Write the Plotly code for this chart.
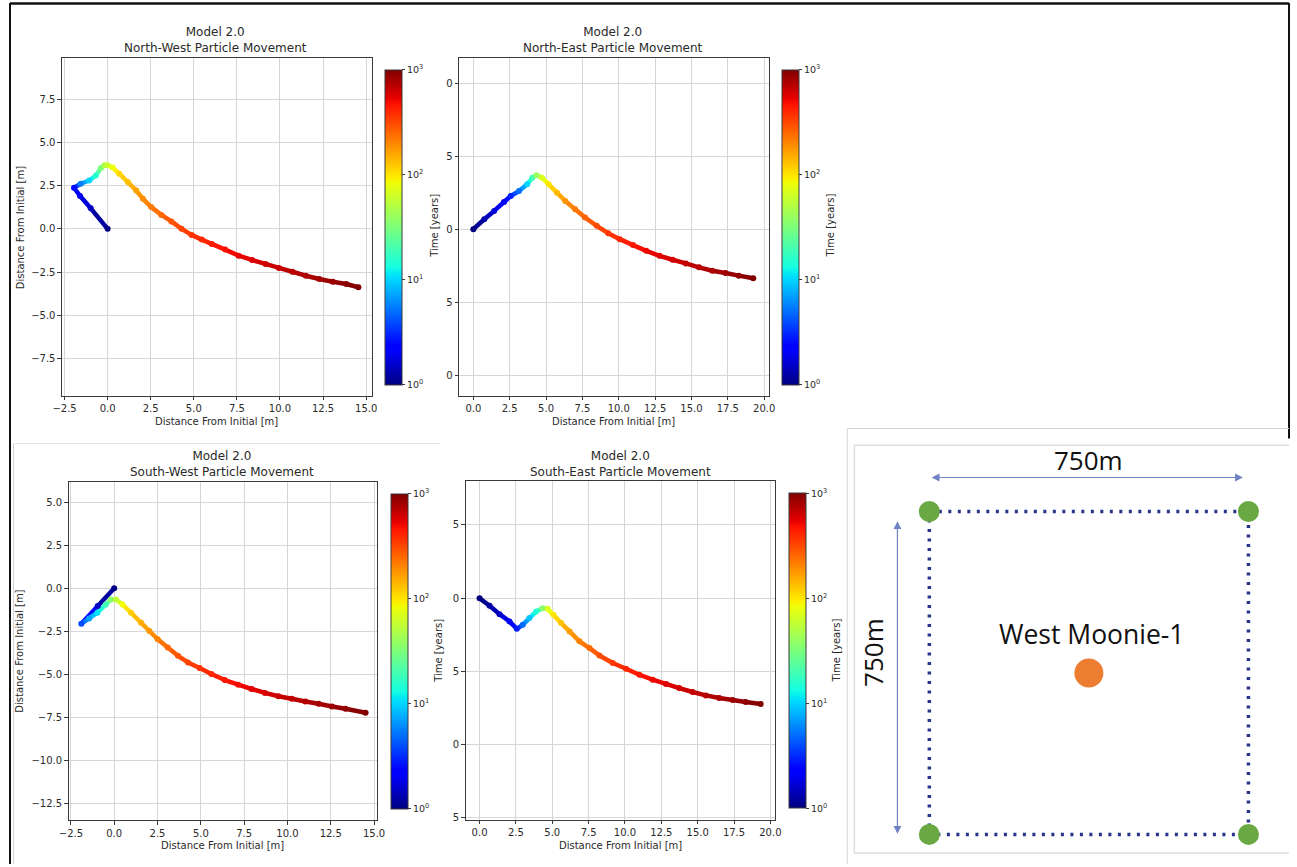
import math
import plotly.graph_objects as go
from plotly.colors import sample_colorscale

W, H = 1297, 867

# ---------------- data ----------------
nw_x = [0, -0.98, -1.6, -1.95, -1.56, -1.07, -0.68, -0.39, -0.19, 0.0, 0.29, 0.68, 1.17, 1.66,
        2.05, 2.53, 3.12, 3.70, 4.29, 4.87, 5.46, 6.04, 6.82, 7.60, 8.38, 9.16, 9.94, 10.72,
        11.50, 12.28, 13.06, 13.84, 14.55]
nw_y = [0, 1.19, 1.90, 2.38, 2.61, 2.80, 3.09, 3.52, 3.68, 3.68, 3.55, 3.19, 2.71, 2.22,
        1.74, 1.26, 0.81, 0.43, 0.0, -0.35, -0.62, -0.87, -1.20, -1.55, -1.80, -2.03, -2.26,
        -2.48, -2.71, -2.90, -3.06, -3.19, -3.38]
nw_t = [1, 1.5, 2.0, 2.5, 5.6, 10, 16, 32, 48, 63, 83, 110, 134, 165, 190, 220, 250, 290,
        330, 370, 400, 440, 480, 530, 570, 620, 660, 710, 760, 810, 860, 930, 1000]

ne_x = [0, 0.75, 1.43, 2.11, 2.57, 3.14, 3.70, 4.05, 4.34, 4.73, 5.18, 5.75, 6.32, 7.00,
        7.68, 8.48, 9.27, 10.07, 10.98, 11.89, 12.80, 13.70, 14.61, 15.52, 16.43, 17.34,
        18.25, 19.25]
ne_y = [0, 0.68, 1.25, 1.86, 2.27, 2.61, 3.07, 3.52, 3.70, 3.52, 3.07, 2.50, 1.93, 1.36,
        0.80, 0.23, -0.27, -0.68, -1.09, -1.48, -1.82, -2.09, -2.34, -2.61, -2.84, -3.00,
        -3.18, -3.36]
ne_t = [1, 1.3, 1.7, 2.3, 3, 5, 10, 20, 40, 70, 100, 140, 180, 220, 260, 310, 360, 410,
        460, 510, 560, 610, 660, 720, 780, 840, 910, 1000]

sw_x = [0, -0.95, -1.90, -1.45, -0.97, -0.48, -0.19, 0.10, 0.48, 0.97, 1.55, 2.03, 2.51,
        3.09, 3.68, 4.26, 4.93, 5.61, 6.38, 7.16, 7.93, 8.70, 9.48, 10.25, 11.03, 11.80,
        12.57, 13.35, 14.51]
sw_y = [0, -1.03, -2.06, -1.75, -1.42, -0.94, -0.65, -0.65, -0.94, -1.42, -2.00, -2.48,
        -2.96, -3.44, -3.92, -4.31, -4.63, -4.98, -5.33, -5.60, -5.85, -6.08, -6.27, -6.42,
        -6.58, -6.71, -6.87, -7.00, -7.23]
sw_t = [1, 1.5, 4, 7, 11, 20, 35, 55, 85, 120, 150, 180, 210, 250, 290, 330, 370, 410,
        460, 500, 550, 590, 640, 690, 740, 790, 840, 900, 1000]

se_x = [0, 0.69, 1.37, 2.06, 2.56, 2.97, 3.43, 3.89, 4.35, 4.69, 5.08, 5.61, 6.19, 6.87,
        7.56, 8.24, 9.16, 10.07, 10.99, 11.90, 12.82, 13.73, 14.65, 15.56, 16.48, 17.40,
        18.30, 19.34]
se_y = [0, -0.52, -1.09, -1.59, -2.09, -1.82, -1.36, -0.91, -0.68, -0.73, -1.14, -1.70,
        -2.27, -2.95, -3.41, -3.91, -4.43, -4.82, -5.23, -5.57, -5.86, -6.14, -6.41, -6.64,
        -6.82, -6.95, -7.09, -7.23]
se_t = [1, 1.2, 1.5, 2, 2.8, 5, 9, 15, 35, 70, 100, 130, 170, 210, 250, 300, 360, 410,
        460, 510, 560, 610, 660, 720, 780, 840, 910, 1000]

panel_titles = ["Model 2.0<br>North-West Particle Movement",
                "Model 2.0<br>North-East Particle Movement",
                "Model 2.0<br>South-West Particle Movement",
                "Model 2.0<br>South-East Particle Movement"]
x_title = "Distance From Initial [m]"
y_titles = ["Distance From Initial [m]", "Time [years]", "Distance From Initial [m]", "Time [years]"]
cbar_title = "Time [years]"
cbar_tickvals = [0, 1, 2, 3]
cbar_ticktext = ["10<sup>0</sup>", "10<sup>1</sup>", "10<sup>2</sup>", "10<sup>3</sup>"]
ne_ytickvals = [-10, -5, 0, 5, 10]
ne_yticktext = ["0", "5", "0", "5", "0"]
se_ytickvals = [-15, -10, -5, 0, 5]
se_yticktext = ["5", "0", "5", "0", "5"]

# diagram (metres)
corner_x = [0, 750, 750, 0, 0]
corner_y = [750, 750, 0, 0, 750]
well_x = [375]
well_y = [375]
well_name = "West Moonie-1"
spacing_label = "750m"

# ---------------- styling ----------------
JET = [[0.0, 'rgb(0,0,128)'], [0.11, 'rgb(0,0,255)'], [0.125, 'rgb(0,0,255)'],
       [0.34, 'rgb(0,219,255)'], [0.35, 'rgb(0,230,247)'], [0.375, 'rgb(21,255,226)'],
       [0.64, 'rgb(238,255,8)'], [0.65, 'rgb(247,246,0)'], [0.66, 'rgb(255,236,0)'],
       [0.89, 'rgb(255,19,0)'], [0.91, 'rgb(232,0,0)'], [1.0, 'rgb(128,0,0)']]
FONT = "DejaVu Sans"
TXT = "#2a2a2a"
AX = "#3a3a3a"
GRID = "#d6d6d6"

# horizontal placement compensation for the page capture (picture x = OX + SX * page x)
OX, SX = 9.0, 0.987


def fx(px):
    return max(0.0, min(1.0, (px - OX) / SX / W))


def fy(py):
    return 1 - py / H


panels = [
    dict(x=nw_x, y=nw_y, t=nw_t, px=(61, 371), py=(58, 397), xr=(-2.65, 15.32), yr=(-9.65, 9.9),
         ydt=2.5, yvals=None, ytext=None, cbx=384, cby=228, title=(215, 40.5),
         xt=(215.5, 423), yt=(19, 228)),
    dict(x=ne_x, y=ne_y, t=ne_t, px=(458.5, 768.5), py=(58, 397), xr=(-0.98, 20.32), yr=(-11.39, 11.73),
         ydt=5, yvals=ne_ytickvals, ytext=ne_yticktext, cbx=782, cby=228, title=(613, 40.5),
         xt=(613.5, 423), yt=(434, 227)),
    dict(x=sw_x, y=sw_y, t=sw_t, px=(67.7, 376.7), py=(483.3, 823.3), xr=(-2.63, 15.19), yr=(-13.49, 6.2),
         ydt=2.5, yvals=None, ytext=None, cbx=390.5, cby=653.5, title=(221.5, 466),
         xt=(222, 848), yt=(19, 653)),
    dict(x=se_x, y=se_y, t=se_t, px=(465, 775), py=(482.7, 822.7), xr=(-0.96, 20.34), yr=(-15.14, 8.0),
         ydt=5, yvals=se_ytickvals, ytext=se_yticktext, cbx=789, cby=653, title=(620, 466),
         xt=(620, 848), yt=(438.5, 653)),
]
cbar_title_pos = [None, (830, 226), None, (836.5, 653)]

fig = go.Figure()
annotations = []
layout = {}

for i, p in enumerate(panels):
    n = i + 1
    xa = "x" if n == 1 else f"x{n}"
    ya = "y" if n == 1 else f"y{n}"
    logt = [math.log10(v) for v in p["t"]]
    for k in range(len(p["x"]) - 1):
        c = sample_colorscale(JET, [(logt[k] + logt[k + 1]) / 6.0])[0]
        fig.add_trace(go.Scatter(x=[p["x"][k], p["x"][k + 1]], y=[p["y"][k], p["y"][k + 1]],
                                 mode="lines", line=dict(color=c, width=4.5),
                                 xaxis=xa, yaxis=ya, showlegend=False, hoverinfo="skip"))
    ca = "coloraxis" if n == 1 else f"coloraxis{n}"
    fig.add_trace(go.Scatter(x=p["x"], y=p["y"], mode="markers",
                             marker=dict(color=logt, coloraxis=ca, size=6, line=dict(width=0)),
                             customdata=p["t"], hovertemplate="t=%{customdata}<extra></extra>",
                             xaxis=xa, yaxis=ya, showlegend=False))
    layout[ca] = dict(colorscale=JET, cmin=0, cmax=3,
                      colorbar=dict(x=fx(p["cbx"]), xanchor="left", y=fy(p["cby"]), yanchor="middle",
                                    len=315, lenmode="pixels", thickness=17, thicknessmode="pixels",
                                    xpad=0, ypad=0, outlinewidth=1, outlinecolor=AX,
                                    tickvals=cbar_tickvals, ticktext=cbar_ticktext,
                                    ticks="outside", ticklen=3, tickcolor=AX,
                                    tickfont=dict(family=FONT, size=9.5, color=TXT)))
    xkey = "xaxis" if n == 1 else f"xaxis{n}"
    ykey = "yaxis" if n == 1 else f"yaxis{n}"
    common = dict(showgrid=True, gridcolor=GRID, gridwidth=1, showline=True, linecolor=AX,
                  linewidth=1, mirror=True, ticks="outside", ticklen=3.5, tickcolor=AX,
                  tickfont=dict(family=FONT, size=10, color=TXT), zeroline=False)
    layout[xkey] = dict(domain=[fx(p["px"][0]), fx(p["px"][1])], range=list(p["xr"]),
                        anchor=ya, tick0=0, dtick=2.5, tickformat=".1f", **common)
    yd = dict(domain=[fy(p["py"][1]), fy(p["py"][0])], range=list(p["yr"]), anchor=xa, **common)
    if p["yvals"] is None:
        yd.update(tick0=0, dtick=p["ydt"], tickformat=".1f")
    else:
        yd.update(tickmode="array", tickvals=p["yvals"], ticktext=p["ytext"])
    layout[ykey] = yd

    tx, ty = p["title"]
    annotations.append(dict(text=panel_titles[i], x=fx(tx), y=fy(ty), xref="paper", yref="paper",
                            showarrow=False, xanchor="center", yanchor="middle",
                            font=dict(family=FONT, size=12, color=TXT)))
    annotations.append(dict(text=x_title, x=fx(p["xt"][0]), y=fy(p["xt"][1]), xref="paper", yref="paper",
                            showarrow=False, xanchor="center", yanchor="middle",
                            font=dict(family=FONT, size=10, color=TXT)))
    annotations.append(dict(text=y_titles[i], x=fx(p["yt"][0]), y=fy(p["yt"][1]), xref="paper", yref="paper",
                            showarrow=False, xanchor="center", yanchor="middle", textangle=-90,
                            font=dict(family=FONT, size=10, color=TXT)))
    if cbar_title_pos[i] is not None:
        cx, cy = cbar_title_pos[i]
        annotations.append(dict(text=cbar_title, x=fx(cx), y=fy(cy), xref="paper", yref="paper",
                                showarrow=False, xanchor="center", yanchor="middle", textangle=-90,
                                font=dict(family=FONT, size=10, color=TXT)))

# ---------------- diagram panel ----------------
PX0, PX750 = 929.3, 1249.3
PY0, PY750 = 837.3, 513.3
sx = (PX750 - PX0) / 750.0
sy = (PY0 - PY750) / 750.0
dl, dr, dt, db = 854, 1290, 446.7, 856
layout["xaxis5"] = dict(domain=[fx(dl), fx(dr)], range=[(dl - PX0) / sx, (dr - PX0) / sx],
                        visible=False, anchor="y5")
layout["yaxis5"] = dict(domain=[fy(db), fy(dt)], range=[(PY0 - db) / sy, (PY0 - dt) / sy],
                        visible=False, anchor="x5")

fig.add_trace(go.Scatter(x=corner_x, y=corner_y, mode="lines", xaxis="x5", yaxis="y5",
                         line=dict(color="#27348b", width=3.5, dash="3px,6.5px"),
                         showlegend=False, hoverinfo="skip"))
fig.add_trace(go.Scatter(x=corner_x[:4], y=corner_y[:4], mode="markers", xaxis="x5", yaxis="y5",
                         marker=dict(color="#6aa843", size=21, line=dict(width=0)),
                         showlegend=False, hoverinfo="skip"))
fig.add_trace(go.Scatter(x=well_x, y=well_y, mode="markers", xaxis="x5", yaxis="y5",
                         marker=dict(color="#ed7d31", size=29, line=dict(width=0)),
                         showlegend=False, hoverinfo="skip"))

arrow_col = "#6f82c2"
annotations.append(dict(x=737, y=829, ax=2, ay=829, xref="x5", yref="y5", axref="x5", ayref="y5",
                        text="", showarrow=True, arrowhead=2, arrowside="end+start", arrowsize=1.3,
                        arrowwidth=1.2, arrowcolor=arrow_col))
annotations.append(dict(x=-75, y=1.5, ax=-75, ay=731, xref="x5", yref="y5", axref="x5", ayref="y5",
                        text="", showarrow=True, arrowhead=2, arrowside="end+start", arrowsize=1.3,
                        arrowwidth=1.2, arrowcolor=arrow_col))
annotations.append(dict(text=spacing_label, x=fx(1088), y=fy(462), xref="paper", yref="paper",
                        showarrow=False, xanchor="center", yanchor="middle",
                        font=dict(family="Open Sans", size=26, color="#111")))
annotations.append(dict(text=spacing_label, x=fx(873), y=fy(655), xref="paper", yref="paper",
                        showarrow=False, xanchor="center", yanchor="middle", textangle=-90,
                        font=dict(family="Open Sans", size=26, color="#111")))
annotations.append(dict(text=well_name, x=fx(1091.5), y=fy(636), xref="paper", yref="paper",
                        showarrow=False, xanchor="center", yanchor="middle",
                        font=dict(family="Open Sans", size=26.5, color="#111")))

# ---------------- frames ----------------
shapes = []


def pline(x0, y0, x1, y1, color, width):
    shapes.append(dict(type="line", xref="paper", yref="paper", x0=fx(x0), y0=fy(y0),
                       x1=fx(x1), y1=fy(y1), line=dict(color=color, width=width)))


pline(0, 3.5, W, 3.5, "#111", 2.5)
pline(5, 3, 5, H, "#111", 2)
pline(1292, 3, 1292, 440, "#111", 2)
pline(12.5, 445, 12.5, H, "#d4d4d4", 1)
pline(12.5, 445, 440, 445, "#e4e4e4", 1)
pline(847, 430, W, 430, "#d4d4d4", 1)
pline(847, 430, 847, H, "#d4d4d4", 1)
pline(854, 446.7, W, 446.7, "#cfcfcf", 1)
pline(854, 446.7, 854, 856, "#cfcfcf", 1)
pline(854, 856, W, 856, "#cfcfcf", 1)

fig.update_layout(
    width=W, height=H, margin=dict(l=0, r=0, t=0, b=0),
    paper_bgcolor="white", plot_bgcolor="white", autosize=False,
    showlegend=False, annotations=annotations, shapes=shapes,
    **layout,
)

page_fix = ("document.documentElement.style.margin='0';document.body.style.margin='0';"
            "document.body.style.padding='0';document.documentElement.style.overflow='hidden';"
            "document.body.style.overflow='hidden';window.scrollTo(0,0);")
fig.write_html("out.html", post_script=page_fix,
               config={"displayModeBar": False, "responsive": False})
